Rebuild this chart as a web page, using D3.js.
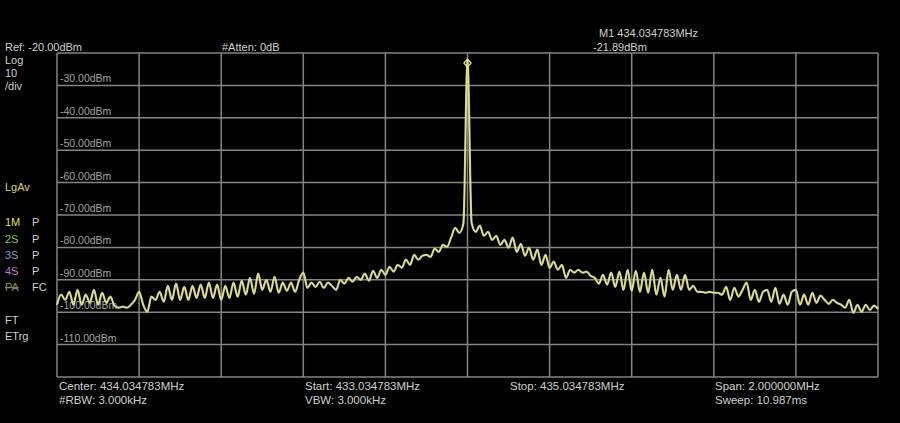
<!DOCTYPE html>
<html><head><meta charset="utf-8">
<script src="https://cdn.jsdelivr.net/npm/d3@7"></script>
<style>
html,body{margin:0;padding:0;background:#000;}
svg{display:block;}
text{font-family:"Liberation Sans",Arial,sans-serif;}
</style></head>
<body>
<svg id="c" width="900" height="423"></svg>
<script>
// ---- data ----
const startMHz = 433.034783;
const stopMHz = 435.034783;
const centerMHz = 434.034783;
const refLevel = -20;          // dBm, top of screen
const dbPerDiv = 10;
const yTickLevels = [-30, -40, -50, -60, -70, -80, -90, -100, -110];
const yTickLabels = ["-30.00dBm","-40.00dBm","-50.00dBm","-60.00dBm","-70.00dBm","-80.00dBm","-90.00dBm","-100.00dBm","-110.00dBm"];
const pointStepKHz = 10;       // trace point spacing
const traceDbm = [
 -97.7,-94.6,-96.2,-93.7,-97.7,-93.1,-97.7,-94.6,-97.1,-93.1,
 -97.7,-94.0,-97.1,-95.2,-98.0,-98.6,-98.3,-98.6,-97.7,-96.2,
 -93.7,-97.7,-99.9,-95.2,-96.2,-93.7,-96.8,-91.9,-96.2,-91.2,
 -96.2,-92.2,-96.2,-91.9,-95.6,-91.5,-95.6,-90.9,-95.6,-91.5,
 -96.2,-91.9,-95.6,-90.9,-95.2,-90.3,-94.6,-89.4,-94.3,-88.1,
 -93.1,-90.0,-93.7,-89.1,-94.0,-90.9,-93.4,-90.9,-93.7,-90.0,
 -87.8,-92.5,-90.9,-92.2,-90.6,-92.5,-90.9,-91.9,-93.1,-90.0,
 -91.2,-89.4,-90.6,-89.1,-90.0,-88.1,-90.3,-87.2,-89.4,-86.9,
 -88.5,-86.0,-87.5,-85.4,-86.3,-83.8,-85.4,-82.3,-83.8,-82.6,
 -82.3,-82.9,-80.4,-81.4,-79.2,-79.8,-77.0,-74.0,-75.5,-72.7,
 -21.89,
 -72.4,-75.2,-73.3,-76.4,-75.2,-77.7,-76.4,-79.2,-77.7,
 -80.1,-77.0,-81.4,-78.9,-82.6,-80.1,-83.8,-80.7,-85.4,-82.3,
 -86.3,-84.4,-86.9,-85.4,-89.4,-86.9,-87.8,-86.9,-87.8,-87.5,
 -88.8,-89.4,-91.2,-88.5,-91.5,-87.8,-92.2,-87.5,-93.1,-86.9,
 -93.4,-87.2,-93.7,-87.8,-94.0,-86.9,-94.6,-89.4,-95.2,-86.9,
 -93.1,-88.5,-93.1,-88.5,-93.1,-91.9,-93.7,-93.7,-94.0,-93.7,
 -94.0,-94.0,-94.6,-92.2,-96.2,-92.5,-95.2,-93.1,-90.9,-96.2,
 -93.1,-96.8,-93.7,-93.1,-96.8,-92.5,-97.4,-94.6,-97.7,-93.7,
 -93.1,-97.7,-94.6,-97.7,-94.0,-97.1,-94.9,-96.2,-97.4,-96.2,
 -97.1,-97.7,-98.6,-96.2,-100.2,-97.7,-99.9,-97.7,-99.3,-98.0,-99.0
];
const markerFreqMHz = 434.034783;
const markerDbm = -21.89;
const headerTexts = ["Ref: -20.00dBm", "#Atten: 0dB", "M1 434.034783MHz", "-21.89dBm"];
const sideLabels = ["Log", "10", "/div", "LgAv", "FT", "ETrg"];
const traceNames = ["1M", "2S", "3S", "4S", "PA"];
const traceModes = ["P", "P", "P", "P", "FC"];
const footerTexts = ["Center: 434.034783MHz", "#RBW: 3.000kHz", "Start: 433.034783MHz", "VBW: 3.000kHz",
                     "Stop: 435.034783MHz", "Span: 2.000000MHz", "Sweep: 10.987ms"];

// ---- layout ----
const svg = d3.select("#c");
const L = 57, R = 878, T = 53, B = 377;
const x = d3.scaleLinear().domain([startMHz, stopMHz]).range([L, R]);
const y = d3.scaleLinear().domain([refLevel, refLevel - 10 * dbPerDiv]).range([T, B]);

// grid
const gridCol = "#858585";
const g = svg.append("g");
const xGrid = d3.range(0, 11).map(i => startMHz + i * (stopMHz - startMHz) / 10);
const yGrid = d3.range(0, 11).map(i => refLevel - i * dbPerDiv);
g.selectAll("line.v").data(xGrid).enter().append("line")
  .attr("x1", d => x(d)).attr("x2", d => x(d)).attr("y1", T).attr("y2", B)
  .attr("stroke", gridCol).attr("stroke-width", 1.5);
g.selectAll("line.h").data(yGrid).enter().append("line")
  .attr("x1", L).attr("x2", R).attr("y1", d => y(d)).attr("y2", d => y(d))
  .attr("stroke", gridCol).attr("stroke-width", 1.5);

// y tick labels inside plot
const txtCol = "#d0d0d0";
svg.selectAll("text.yl").data(yTickLevels).enter().append("text")
  .attr("x", L + 3).attr("y", d => y(d) - 3)
  .attr("fill", "#a4a4a4").attr("font-size", 10.5)
  .text((d, i) => yTickLabels[i]);

// header
const fs = 11;
svg.append("text").attr("x", 5).attr("y", 51).attr("fill", txtCol).attr("font-size", fs).text(headerTexts[0]);
svg.append("text").attr("x", 222).attr("y", 51).attr("fill", txtCol).attr("font-size", fs).text(headerTexts[1]);
svg.append("text").attr("x", 599).attr("y", 37).attr("fill", txtCol).attr("font-size", fs).text(headerTexts[2]);
svg.append("text").attr("x", 593).attr("y", 51).attr("fill", txtCol).attr("font-size", fs).text(headerTexts[3]);

// side labels
const sideY = [64, 77, 90, 191, 324, 340];
sideLabels.forEach((t, i) => {
  svg.append("text").attr("x", 5).attr("y", sideY[i])
    .attr("fill", t === "LgAv" ? "#d8d46a" : txtCol).attr("font-size", fs).text(t);
});
const nameCols = ["#e4e05a", "#7fcf5a", "#8a9fd6", "#c374c8", "#8d8d5a"];
const nameY = [226, 243, 259, 275, 291];
traceNames.forEach((t, i) => {
  const tx = svg.append("text").attr("x", 5).attr("y", nameY[i]).attr("fill", nameCols[i]).attr("font-size", fs).text(t);
  if (t === "PA") tx.attr("text-decoration", "line-through");
  svg.append("text").attr("x", 32).attr("y", nameY[i]).attr("fill", txtCol).attr("font-size", fs).text(traceModes[i]);
});

// footer
const ffs = 11.5;
const fpos = [[59, 390], [59, 404], [305, 390], [305, 404], [510, 390], [715, 390], [715, 404]];
footerTexts.forEach((t, i) => {
  svg.append("text").attr("x", fpos[i][0]).attr("y", fpos[i][1]).attr("fill", txtCol).attr("font-size", ffs).text(t);
});

// trace
const pts = traceDbm.map((v, i) => [startMHz + i * pointStepKHz / 1000, v]);
const line = d3.line().x(d => x(d[0])).y(d => y(d[1])).curve(d3.curveMonotoneX);
svg.append("path").datum(pts).attr("d", line)
  .attr("fill", "none").attr("stroke", "#c6c574").attr("stroke-width", 2.2).attr("stroke-linejoin", "round");
svg.append("path").datum(pts).attr("d", line)
  .attr("fill", "none").attr("stroke", "#ecebc0").attr("stroke-width", 0.8).attr("stroke-linejoin", "round");

// marker diamond
const mx = x(markerFreqMHz), my = y(markerDbm) + 4;
svg.append("path").attr("d", `M${mx},${my - 4} L${mx + 3.5},${my} L${mx},${my + 4} L${mx - 3.5},${my} Z`)
  .attr("fill", "none").attr("stroke", "#e8e070").attr("stroke-width", 1.4);
</script>
</body></html>
